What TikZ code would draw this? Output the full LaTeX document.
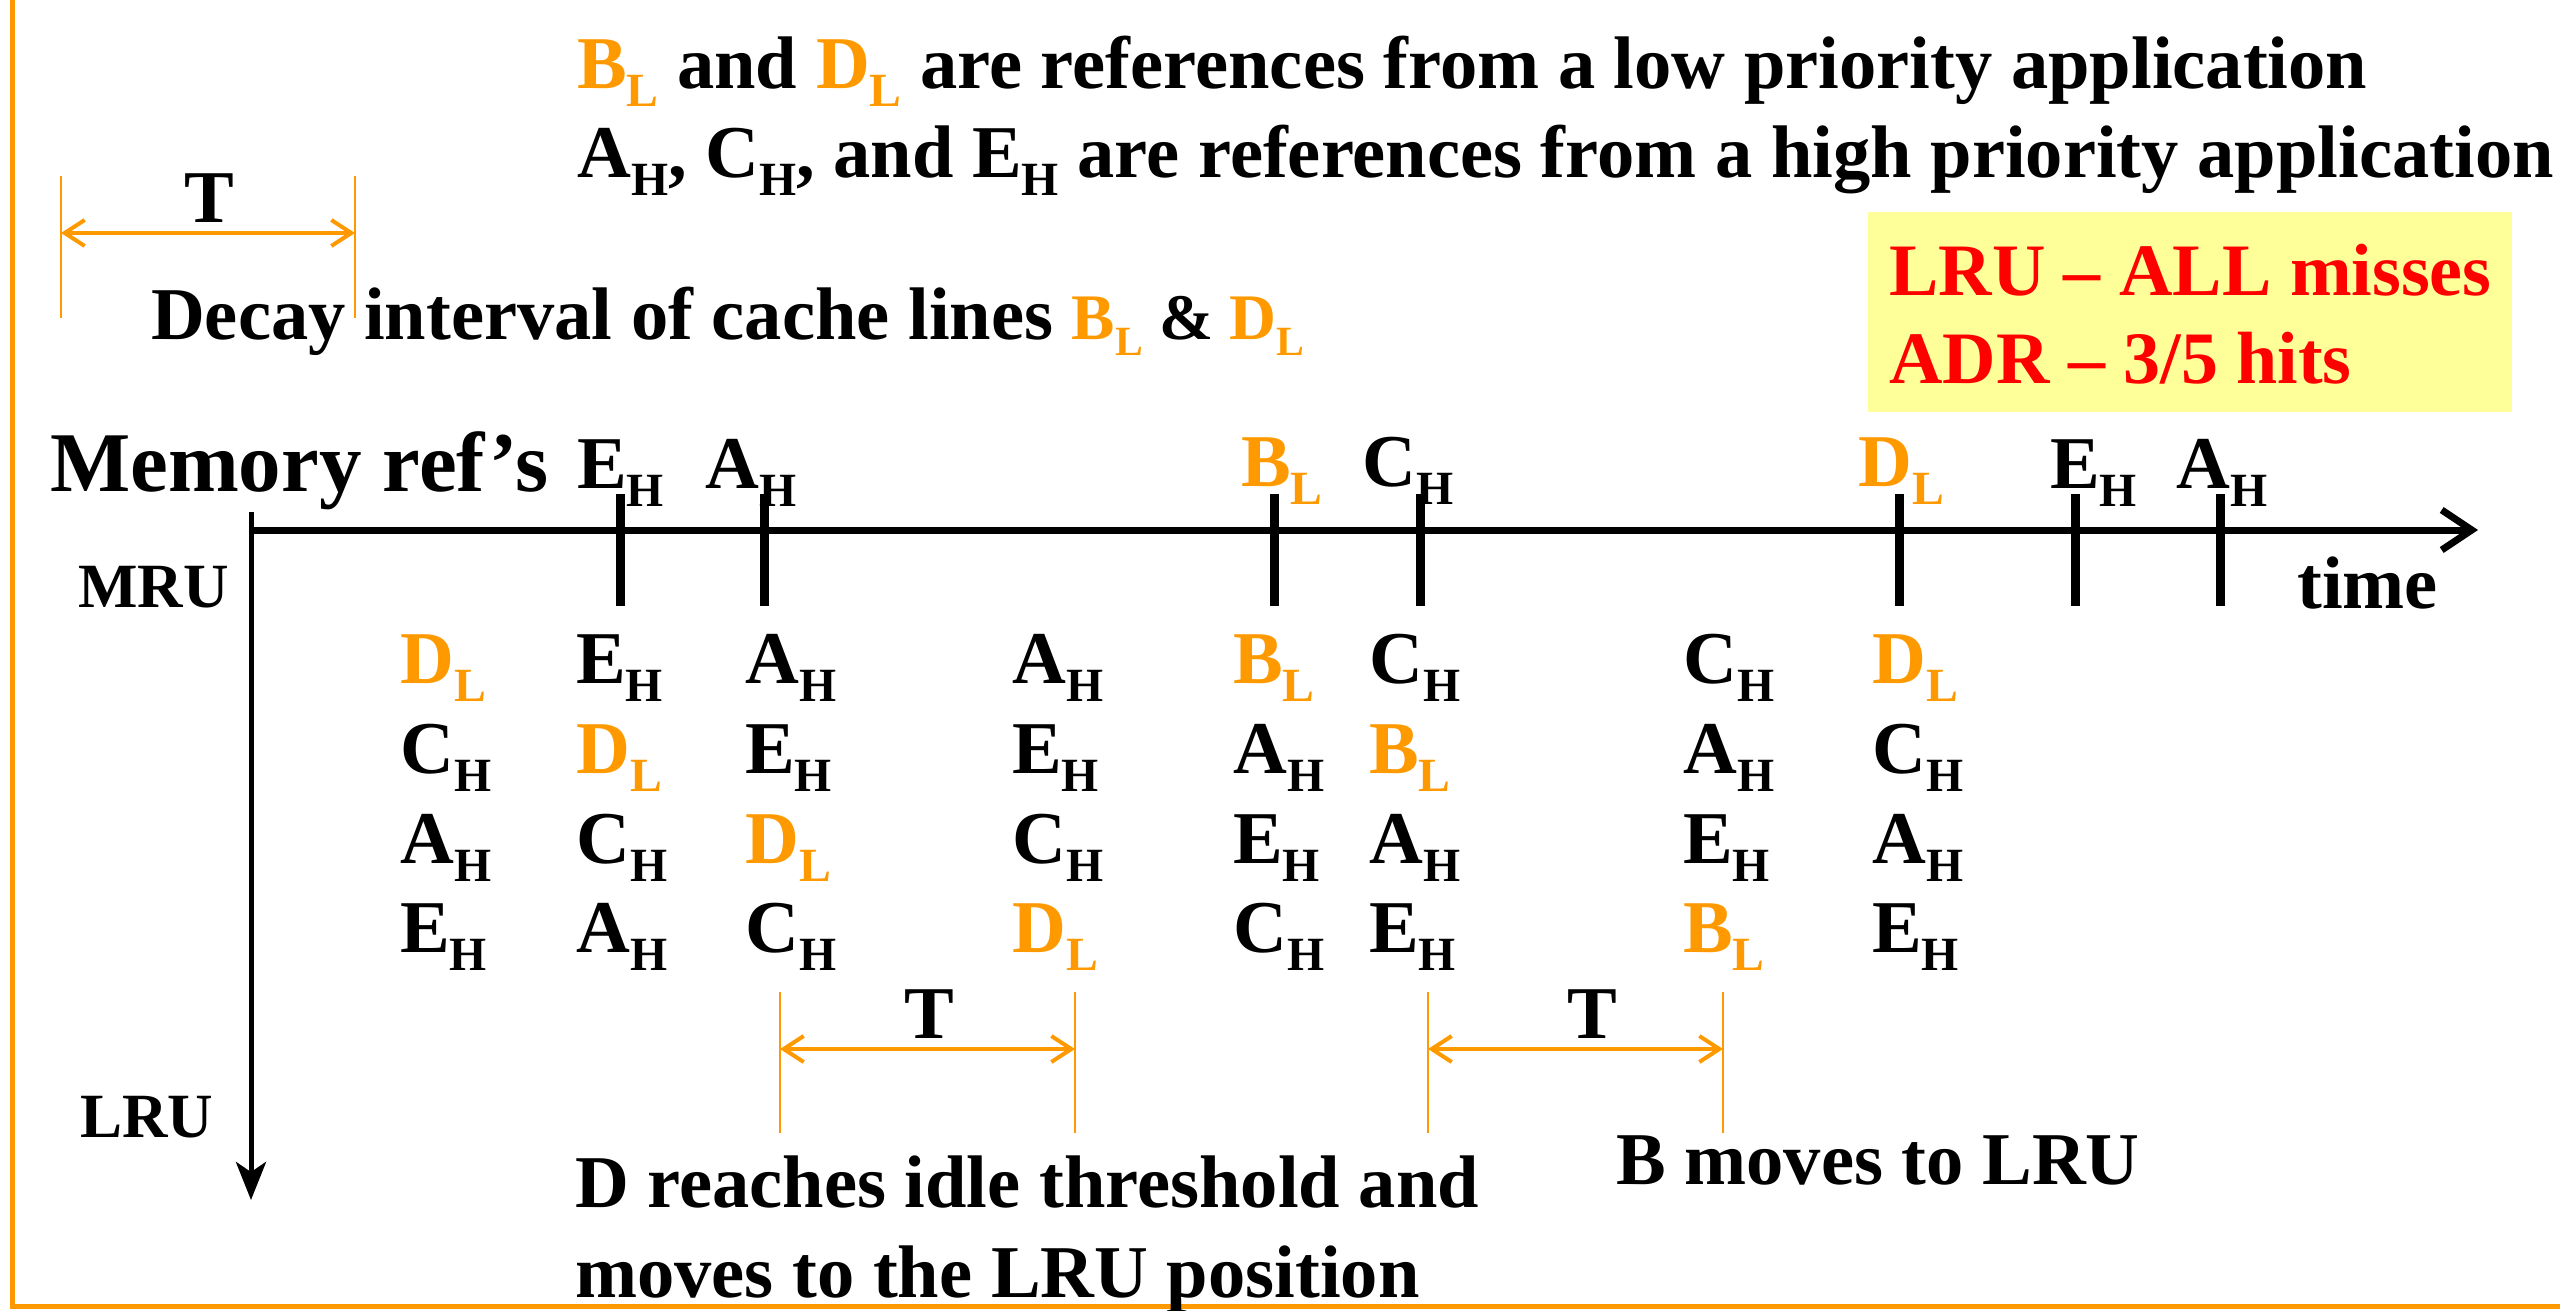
\documentclass[tikz,border=0pt]{standalone}
\usepackage{fontspec}
\setmainfont{Liberation Serif}
\usetikzlibrary{arrows.meta}
\definecolor{ora}{HTML}{FF9900}
\definecolor{yel}{HTML}{FFFF99}
\definecolor{redt}{HTML}{FF0000}
\newcommand\sbx[1]{\raisebox{-0.25em}{\scalebox{0.64}{#1}}}
\newcommand\oL[1]{\textcolor{ora}{#1\sbx{L}}}
\newcommand\bH[1]{#1\sbx{H}}
\begin{document}
\begin{tikzpicture}[x=1pt,y=-1pt,
  txt/.style={inner sep=0pt, anchor=base west, font=\fontsize{74.5}{80}\selectfont\bfseries},
  ctr/.style={txt, anchor=base},
  small/.style={txt, font=\fontsize{63}{66}\selectfont\bfseries},
  big/.style={txt, font=\fontsize{85}{90}\selectfont\bfseries},
  redtxt/.style={txt, text=redt, font=\fontsize{74}{78}\selectfont\bfseries},
  tick/.style={line width=9pt},
  guide/.style={draw=ora, line width=1.8pt},
  tarrow/.style={draw=ora, line width=4pt, {Straight Barb[length=20pt,width=26pt]}-{Straight Barb[length=20pt,width=26pt]}},
  border/.style={draw=ora, line width=5pt}
]
\useasboundingbox (0,0) rectangle (2560,1310);
% border
\coordinate (bTL) at (12,-10);
\coordinate (bBL) at (12,1306);
\coordinate (bBR) at (2570,1306);
\draw[border] (bTL) -- (bBL) -- (bBR);

% header lines
\node[txt] (h1) at (577,88) {\oL{B} and \oL{D} are references from a low priority application};
\node[txt] (h2) at (577,177) {\bH{A}, \bH{C}, and \bH{E} are references from a high priority application};

% decay interval T
\coordinate (g1a) at (61,176); \coordinate (g1b) at (61,318);
\coordinate (g2a) at (355,176); \coordinate (g2b) at (355,318);
\draw[guide] (g1a) -- (g1b);
\draw[guide] (g2a) -- (g2b);
\coordinate (t1l) at (61,233); \coordinate (t1r) at (355,233);
\draw[tarrow] (t1l) -- (t1r);
\node[ctr] (T1) at (209,222) {T};
\node[txt] (decay) at (151,339) {Decay interval of cache lines {\fontsize{65}{70}\selectfont\oL{B} \& \oL{D}}};

% result box
\node[fill=yel, inner sep=0pt, minimum width=644pt, minimum height=200pt, anchor=north west] (box) at (1868,212) {};
\node[redtxt] (lru) at (1889,295) {LRU -- ALL misses};
\node[redtxt] (adr) at (1889,383) {ADR -- 3/5 hits};

% memory refs
\node[big] (mem) at (50,491) {Memory ref’s};
\node[txt] (r1) at (577,488) {\bH{E}};
\node[txt] (r2) at (705,488) {\bH{A}};
\node[txt] (r3) at (1241,486) {\oL{B}};
\node[txt] (r4) at (1362,486) {\bH{C}};
\node[txt] (r5) at (1858,486) {\oL{D}};
\node[txt] (r6) at (2050,488) {\bH{E}};
\node[txt] (r7) at (2176,488) {\bH{A}};

% time axis
\coordinate (tl0) at (251,530);
\coordinate (tl1) at (2478,530);
\draw[line width=7pt, -{Straight Barb[length=30pt,width=40pt]}] (tl0) -- (tl1);
\foreach \x in {620,764,1274,1420,1899,2075,2220}
  \draw[tick] (\x,494) -- (\x,606);
\node[txt] (time) at (2297,608) {time};

% stack axis
\coordinate (va0) at (251,512);
\coordinate (va1) at (251,1200);
\draw[line width=5pt, -{Stealth[length=38pt,width=30pt,inset=10pt]}] (va0) -- (va1);
\node[small] (mru) at (78,607) {MRU};
\node[small] (lrul) at (80,1137) {LRU};

% stack contents
\foreach \x/\a/\b/\c/\d [count=\i] in {
  400/{\oL{D}}/{\bH{C}}/{\bH{A}}/{\bH{E}},
  576/{\bH{E}}/{\oL{D}}/{\bH{C}}/{\bH{A}},
  745/{\bH{A}}/{\bH{E}}/{\oL{D}}/{\bH{C}},
  1012/{\bH{A}}/{\bH{E}}/{\bH{C}}/{\oL{D}},
  1233/{\oL{B}}/{\bH{A}}/{\bH{E}}/{\bH{C}},
  1369/{\bH{C}}/{\oL{B}}/{\bH{A}}/{\bH{E}},
  1683/{\bH{C}}/{\bH{A}}/{\bH{E}}/{\oL{B}},
  1872/{\oL{D}}/{\bH{C}}/{\bH{A}}/{\bH{E}}}{
  \node[txt] (s\i-1) at (\x,683) {\a};
  \node[txt] (s\i-2) at (\x,773) {\b};
  \node[txt] (s\i-3) at (\x,863) {\c};
  \node[txt] (s\i-4) at (\x,952) {\d};
}

% T intervals below
\coordinate (g3a) at (780,992); \coordinate (g3b) at (780,1133);
\coordinate (g4a) at (1075,992); \coordinate (g4b) at (1075,1133);
\draw[guide] (g3a) -- (g3b);
\draw[guide] (g4a) -- (g4b);
\coordinate (t2l) at (780,1049); \coordinate (t2r) at (1075,1049);
\draw[tarrow] (t2l) -- (t2r);
\node[ctr] (T2) at (929,1038) {T};

\coordinate (g5a) at (1428,992); \coordinate (g5b) at (1428,1133);
\coordinate (g6a) at (1723,992); \coordinate (g6b) at (1723,1133);
\draw[guide] (g5a) -- (g5b);
\draw[guide] (g6a) -- (g6b);
\coordinate (t3l) at (1428,1049); \coordinate (t3r) at (1723,1049);
\draw[tarrow] (t3l) -- (t3r);
\node[ctr] (T3) at (1592,1038) {T};

\node[txt] (dtxt1) at (575,1207) {D reaches idle threshold and};
\node[txt] (dtxt2) at (575,1297) {moves to the LRU position};
\node[txt] (btxt) at (1616,1184) {B moves to LRU};
\end{tikzpicture}
\end{document}
